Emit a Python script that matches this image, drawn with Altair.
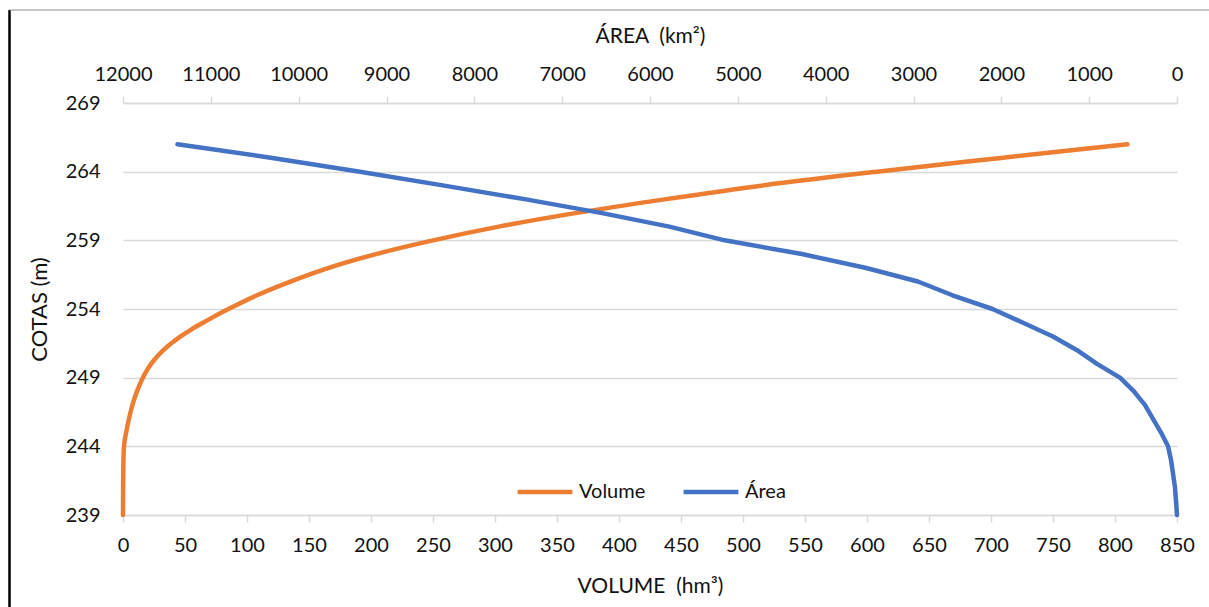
import altair as alt
import pandas as pd

# ---- data ----
cota_volume = [239, 240, 241, 242, 243, 244, 244.5, 245, 245.5, 246, 246.5, 247, 247.5,
               248, 248.5, 249, 249.5, 250, 250.5, 251, 251.5, 252, 252.5, 253, 253.5,
               254, 255, 256, 257, 258, 259, 260, 261, 262, 263, 264, 265, 266]
volume = [0, 0.05, 0.1, 0.2, 0.35, 0.8, 1.5, 2.5, 3.6, 4.8, 6.1, 7.6, 9.3,
          11.3, 13.5, 16, 19, 22.7, 27.2, 32.6, 39, 46.5, 55, 64.5, 74.5,
          85, 108, 135, 166, 204, 250, 303, 366, 438, 516, 608, 708, 810]

cota_area = [239, 240, 241, 242, 243, 244, 245, 246, 247, 248, 249, 250, 251, 252,
             253, 254, 255, 256, 257, 258, 259, 260, 261, 262, 263, 264, 265, 266]
area = [0, 11, 23, 45, 68, 102, 182, 273, 364, 490, 649, 911, 1138, 1412,
        1753, 2100, 2556, 2950, 3550, 4270, 5150, 5780, 6560, 7428, 8360, 9302, 10300, 11380]

series = ["Volume", "Área"]
colors = ["#ED7D31", "#4472C4"]

y_ticks = [239, 244, 249, 254, 259, 264, 269]
volume_ticks = list(range(0, 851, 50))
area_ticks = list(range(0, 12001, 1000))

FONT = "Lato"
GRID = "#d9d9d9"
TXT = "#111111"
NB = "\u00a0"

vol_df = pd.DataFrame({"cota": cota_volume, "valor": volume, "serie": series[0]})
area_df = pd.DataFrame({"cota": cota_area, "valor": area, "serie": series[1]})

color_scale = alt.Scale(domain=series, range=colors)
legend = alt.Legend(orient="none", legendX=392, legendY=359, direction="horizontal",
                    title=None, symbolType="stroke", symbolSize=3000,
                    symbolStrokeWidth=4.5, labelFontSize=20, labelFont=FONT,
                    labelColor=TXT, columnPadding=28, labelOffset=4)

y_enc = alt.Y("cota:Q",
              scale=alt.Scale(domain=[239, 269], nice=False, zero=False),
              axis=alt.Axis(title="COTAS (m)", values=y_ticks, grid=True,
                            gridColor=GRID, gridWidth=1.5, domain=False, ticks=False,
                            labelPadding=23, titlePadding=14, titleFontSize=22))

vol_line = alt.Chart(vol_df).mark_line(strokeWidth=4.5, strokeCap="round",
                                       strokeJoin="round",
                                       interpolate="catmull-rom").encode(
    x=alt.X("valor:Q", scale=alt.Scale(domain=[0, 850], nice=False, zero=False),
            axis=alt.Axis(orient="bottom", title="VOLUME" + NB + NB + "(hm³)",
                          values=volume_ticks,
                          grid=False, domainColor=GRID, domainWidth=1.5,
                          tickColor=GRID, tickWidth=1.5, tickSize=7,
                          labelPadding=13, titlePadding=20, labelFlush=False,
                          labelOverlap=False)),
    y=y_enc,
    color=alt.Color("serie:N", scale=color_scale, legend=legend),
    order=alt.Order("cota:Q"),
)

area_line = alt.Chart(area_df).mark_line(strokeWidth=4.5, strokeCap="round",
                                         strokeJoin="round").encode(
    x=alt.X("valor:Q", scale=alt.Scale(domain=[0, 12000], nice=False, zero=False,
                                       reverse=True),
            axis=alt.Axis(orient="top", title="ÁREA" + NB + NB + "(km²)",
                          values=area_ticks,
                          format="d", grid=False, domainColor=GRID, domainWidth=1.5,
                          tickColor=GRID, tickWidth=1.5, tickSize=7,
                          labelPadding=12, titlePadding=18, labelFlush=False,
                          labelOverlap=False)),
    y=y_enc,
    color=alt.Color("serie:N", scale=color_scale, legend=legend),
    order=alt.Order("cota:Q"),
)

frame_df = pd.DataFrame({"k": [0]})
left_border = alt.Chart(frame_df).mark_rule(color="#000000", strokeWidth=2.5).encode(
    x=alt.value(-113.5), y=alt.value(-93), y2=alt.value(504))
top_border = alt.Chart(frame_df).mark_rule(color="#8c8c8c", strokeWidth=1.2).encode(
    x=alt.value(-114), x2=alt.value(1086), y=alt.value(-93))

chart = alt.layer(vol_line, area_line, left_border, top_border).resolve_scale(
    x="independent", y="shared", color="shared"
).properties(
    width=1054, height=412,
    autosize=alt.AutoSizeParams(type="none"),
    padding={"left": 123, "top": 103, "right": 32, "bottom": 92},
    background="white",
).configure_view(stroke=None).configure_axis(
    labelFont=FONT, labelFontSize=20, labelColor=TXT,
    titleFont=FONT, titleFontSize=21, titleColor=TXT, titleFontWeight="normal",
)

chart.save("out.html", embed_options={"renderer": "svg", "actions": False})
